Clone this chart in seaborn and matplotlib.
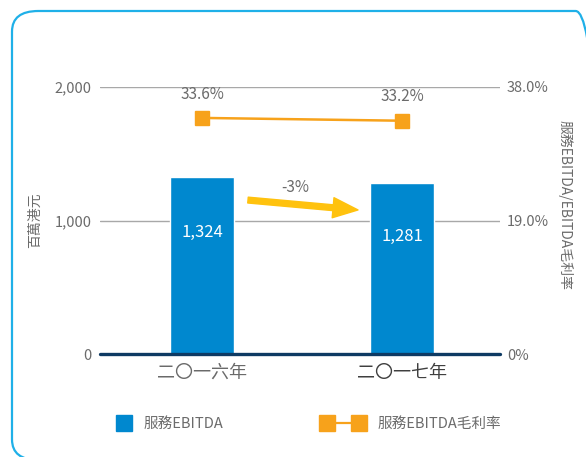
import matplotlib
matplotlib.use("Agg")
import matplotlib.pyplot as plt
from matplotlib.lines import Line2D
from matplotlib.legend_handler import HandlerLine2D
from matplotlib.patches import FancyBboxPatch
import seaborn as sns
import pandas as pd

# chart data
years = ["二〇一六年", "二〇一七年"]
ebitda = [1324, 1281]
margin = [33.6, 33.2]
ebitda_labels = ["1,324", "1,281"]
margin_labels = ["33.6%", "33.2%"]
change_label = "-3%"

sns.set_theme(style="white")
plt.rcParams["font.family"] = ["Noto Sans CJK TC", "DejaVu Sans"]

blue = "#0088cf"
orange = "#f7a21b"
gold = "#ffc20e"
grey_txt = "#6b6b6b"

fig = plt.figure(figsize=(5.86, 4.57), dpi=100)
W, H = 586, 457

# rounded frame around the whole chart
frame = FancyBboxPatch((12 / W, 1 - 460 / H), 590 / W, 449 / H,
                       boxstyle="round,pad=0,rounding_size=0.045",
                       transform=fig.transFigure, fill=False,
                       edgecolor="#1fb0e8", linewidth=1.6, clip_on=False)
fig.patches.append(frame)

ax = fig.add_axes([100 / W, 1 - 354 / H, 400 / W, 267 / H])
df = pd.DataFrame({"year": years, "ebitda": ebitda})
sns.barplot(data=df, x="year", y="ebitda", order=years, color=blue,
            saturation=1, width=0.32, ax=ax, zorder=3)
ax.set_xlim(-0.51, 1.49)
ax.set_ylim(0, 2000)
ax.set_yticks([0, 1000, 2000])
ax.set_yticklabels(["0", "1,000", "2,000"], color=grey_txt, fontsize=10.5)
ax.tick_params(axis="y", length=0, pad=6)
ax.tick_params(axis="x", length=0, pad=7)
ax.set_xticks([0, 1])
ax.set_xticklabels(years, fontsize=13)
for lab, c in zip(ax.get_xticklabels(), ["#6a6a6a", "#3f3f3f"]):
    lab.set_color(c)
ax.set_xlabel("")
ax.set_ylabel("百萬港元", color=grey_txt, fontsize=10)
ax.yaxis.set_label_coords(-0.145, 0.5)
for s in ax.spines.values():
    s.set_visible(False)
for yv in [1000, 2000]:
    ax.axhline(yv, color="#a8a8a8", linewidth=1.0, zorder=1)
ax.axhline(0, color="#0e3a63", linewidth=2.4, zorder=4, clip_on=False)

for i, v in enumerate(ebitda):
    ax.text(i, v * 0.69, ebitda_labels[i], ha="center", va="center",
            color="white", fontsize=12, zorder=5)

# arrow showing the change
ax.annotate("", xy=(0.78, 1079), xytext=(0.23, 1153),
            arrowprops=dict(arrowstyle="simple,head_length=1.8,head_width=1.45,tail_width=0.42",
                            color=gold, mutation_scale=10, shrinkA=0, shrinkB=0),
            zorder=5)
ax.text(0.465, 1250, change_label, ha="center", va="center",
        color=grey_txt, fontsize=11)

# margin on secondary axis
ax2 = ax.twinx()
ax2.set_position(ax.get_position())
ax2.plot([0, 1], margin, color=orange, linewidth=1.8, marker="s",
         markersize=10, zorder=5)
ax2.set_ylim(0, 38)
ax2.set_yticks([0, 19, 38])
ax2.set_yticklabels(["0%", "19.0%", "38.0%"], color=grey_txt, fontsize=10.5)
ax2.tick_params(axis="y", length=0, pad=5)
for s in ax2.spines.values():
    s.set_visible(False)
for i, v in enumerate(margin):
    ax2.annotate(margin_labels[i], (i, v), xytext=(0, 11), textcoords="offset points",
                 ha="center", va="bottom", color=grey_txt, fontsize=11)
ax2.set_ylabel("服務EBITDA/EBITDA毛利率", color=grey_txt, fontsize=10,
               rotation=270)
ax2.yaxis.set_label_coords(1.18, 0.56)

# legend, two separate entries
h_bar = Line2D([], [], color=blue, marker="s", linestyle="none", markersize=11.5)
h_line = Line2D([], [], color=orange, marker="s", linewidth=1.6, markersize=11.5)
leg1 = fig.legend([h_bar], ["服務EBITDA"], numpoints=1,
                  loc="center left", bbox_to_anchor=(114 / W, 1 - 424 / H),
                  frameon=False, fontsize=10.5, labelcolor=grey_txt,
                  borderpad=0, borderaxespad=0,
                  handlelength=1.4, handletextpad=0.62)
leg2 = fig.legend([h_line], ["服務EBITDA毛利率"], numpoints=2,
                  loc="center left", bbox_to_anchor=(323 / W, 1 - 424 / H),
                  frameon=False, fontsize=10.5, labelcolor=grey_txt,
                  borderpad=0, borderaxespad=0,
                  handlelength=2.75, handletextpad=0.96)

fig.savefig("out.png", dpi=100)
